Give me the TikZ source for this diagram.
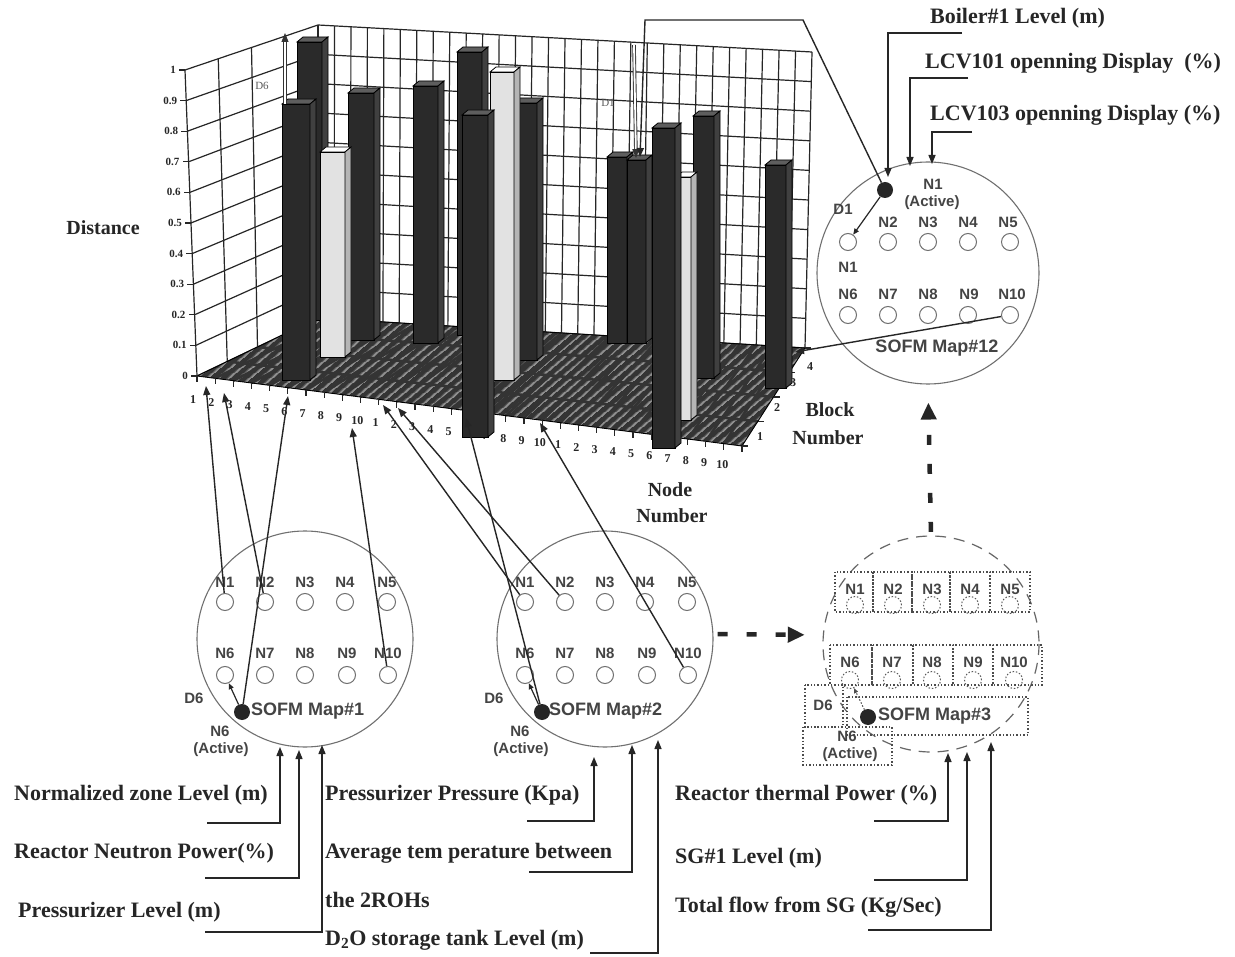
\documentclass[tikz,border=0pt]{standalone}
\usepackage{fontspec}
\setmainfont{Liberation Serif}
\newfontfamily\mapsans{Liberation Sans}
\usetikzlibrary{arrows.meta,patterns.meta,calc}

\definecolor{bardark}{HTML}{2A2A2A}
\definecolor{bartop}{HTML}{5E5E5E}
\definecolor{barside}{HTML}{404040}
\definecolor{barlight}{HTML}{E2E2E2}
\definecolor{barlside}{HTML}{B5B5B5}
\definecolor{floorc}{HTML}{343434}
\definecolor{hatchc}{HTML}{909090}
\definecolor{gridc}{HTML}{262626}
\definecolor{mapgray}{HTML}{707070}
\definecolor{labgray}{HTML}{444444}

% one 3-D column of the chart: x-left, x-right, y-top, y-bottom, front, top, side colours
\newcommand{\chartbar}[7]{%
  \filldraw[fill=#5, draw=black, line width=0.8pt] (#1,#3) rectangle (#2,#4);
  \filldraw[fill=#6, draw=black, line width=0.8pt] (#1,#3) -- ({#1+6},{#3-5}) -- ({#2+6},{#3-5}) -- (#2,#3) -- cycle;
  \filldraw[fill=#7, draw=black, line width=0.8pt] (#2,#3) -- ({#2+6},{#3-5}) -- ({#2+6},{#4-5}) -- (#2,#4) -- cycle;
}

\begin{document}
\begin{tikzpicture}[x=1pt,y=-1pt,
  bigtxt/.style={font=\fontsize{22}{24}\selectfont\bfseries, text=black!85, inner sep=0pt},
  axtxt/.style={font=\fontsize{20}{22}\selectfont\bfseries, text=black!85, inner sep=0pt},
  ticktxt/.style={font=\fontsize{12}{13}\selectfont\bfseries, text=black!85, inner sep=0pt},
  dtxt/.style={font=\fontsize{11}{12}\selectfont, text=black!65, inner sep=0pt},
  grid/.style={draw=gridc, line width=1.2pt},
  mapc/.style={circle, draw=mapgray, line width=1.1pt, minimum size=216pt, inner sep=0pt},
  nodec/.style={circle, draw=mapgray, line width=1pt, minimum size=17pt, inner sep=0pt},
  dotc/.style={circle, draw=black!65, line width=1pt, dash pattern=on 1.5pt off 1.8pt, minimum size=17pt, inner sep=0pt},
  actdot/.style={circle, fill=black!85, minimum size=16pt, inner sep=0pt},
  nlab/.style={font=\mapsans\fontsize{15}{16}\selectfont\bfseries, text=labgray, inner sep=0pt},
  maplab/.style={font=\mapsans\fontsize{18}{20}\selectfont\bfseries, text=labgray, inner sep=0pt},
  conn/.style={draw=black!85, line width=1.4pt},
  arr/.style={conn, -{Triangle[length=9pt,width=7pt]}},
  arrs/.style={draw=black!85, line width=1.2pt, -{Triangle[length=6pt,width=5pt]}},
  dmark/.style={draw=black!80, line width=0.9pt, double=white, double distance=1.8pt,
                -{Triangle[length=9pt,width=7pt]}},
  dotbox/.style={draw=black!70, line width=1.1pt, dash pattern=on 1.4pt off 2pt},
  bigdash/.style={draw=black!85, line width=4.5pt, dash pattern=on 10pt off 19pt,
                  -{Triangle[length=17pt,width=15pt]}},
]
\useasboundingbox (0,0) rectangle (1235,957);
\fill[white] (0,0) rectangle (1235,957);

% ---------------- chart frame ----------------
\coordinate (F0) at (197,376);
\coordinate (F1) at (742,446);
\coordinate (B0) at (318,318);
\coordinate (B1) at (805,348);

% left wall
\foreach \k in {0,...,10}
  \draw[grid] ({197-1.2*\k},{376-30.6*\k}) -- (318,{318-29.3*\k});
\foreach \j in {1,2,3}
  \draw[grid] ({197+121*\j/4},{376-58*\j/4}) -- ({185+133*\j/4},{70-45*\j/4});
\draw[grid] (318,318) -- (318,25);

% back wall
\foreach \k in {0,...,10}
  \draw[grid] (318,{318-29.3*\k}) -- ({805+0.7*\k},{348-29.6*\k});
\foreach \j in {0,...,30}
  \draw[grid] ({318+487*\j/30},{318+30*\j/30}) -- ({318+494*\j/30},{25+27*\j/30});

% floor
\fill[floorc] (F0) -- (B0) -- (B1) -- (F1) -- cycle;
\fill[pattern={Lines[angle=40,distance=6.5pt,line width=1.8pt]}, pattern color=hatchc]
  (F0) -- (B0) -- (B1) -- (F1) -- cycle;
\foreach \i in {1,...,29}
  \draw[floorc, line width=2.6pt] ($(F0)!\i/30!(F1)$) -- ($(B0)!\i/30!(B1)$);
\foreach \b in {1,2,3}
  \draw[floorc, line width=2.6pt] ($(F0)!\b/4!(B0)$) -- ($(F1)!\b/4!(B1)$);
\draw[black, line width=0.9pt] (F0) -- (B0) -- (B1) -- (F1) -- cycle;

% y axis
\draw[grid] (197,376) -- (185,70);
\foreach \k/\t in {0/0,1/0.1,2/0.2,3/0.3,4/0.4,5/0.5,6/0.6,7/0.7,8/0.8,9/0.9,10/1} {
  \draw[grid] ({197-1.2*\k},{376-30.6*\k}) -- ++(-6,0);
  \node[ticktxt, font=\fontsize{11}{12}\selectfont\bfseries, anchor=east] (yl\k) at ({188-1.2*\k},{376-30.6*\k}) {\t};
}

% node-number ticks and labels
\foreach \i in {0,...,30}
  \draw[grid] ($(F0)!\i/30!(F1)$) -- ++(0,6);
\foreach \i in {0,...,29} {
  \pgfmathtruncatemacro{\lab}{mod(\i,10)+1}
  \node[ticktxt] (xl\i) at ({193+18.25*\i},{400+2.24*\i}) {\lab};
}

% block ticks and labels
\foreach \b in {0,...,4}
  \draw[grid] ($(F1)!\b/4!(B1)$) -- ++(6,0);
\node[ticktxt] (bl1) at (760,437) {1};
\node[ticktxt] (bl2) at (777,408) {2};
\node[ticktxt] (bl3) at (793,383) {3};
\node[ticktxt] (bl4) at (810,367) {4};

% columns, back to front
\chartbar{457}{482}{52}{335}{bardark}{bartop}{barside}
\chartbar{297}{322}{42}{320}{bardark}{bartop}{barside}
\chartbar{348}{374}{93}{340}{bardark}{bartop}{barside}
\chartbar{413}{438}{86}{343}{bardark}{bartop}{barside}
\chartbar{513}{537}{103}{360}{bardark}{bartop}{barside}
\chartbar{607}{627}{157}{343}{bardark}{bartop}{barside}
\chartbar{627}{646}{160}{343}{bardark}{bartop}{barside}
\chartbar{693}{714}{116}{378}{bardark}{bartop}{barside}
\chartbar{765}{786}{165}{388}{bardark}{bartop}{barside}
\chartbar{320}{345}{152}{357}{barlight}{white}{barlside}
\chartbar{490}{514}{72}{380}{barlight}{white}{barlside}
\chartbar{676}{691}{177}{420}{barlight}{white}{barlside}
\chartbar{282}{310}{104}{380}{bardark}{bartop}{barside}
\chartbar{462}{488}{115}{437}{bardark}{bartop}{barside}
\chartbar{652}{675}{128}{448}{bardark}{bartop}{barside}

% distance markers on the chart
\coordinate (d6a) at (285,104);
\coordinate (d6b) at (285,33);
\draw[dmark] (d6a) -- (d6b);
\node[dtxt] (d6t) at (262,86) {D6};
\coordinate (d1a) at (634,45);
\coordinate (d1b) at (636,158);
\draw[dmark] (d1a) -- (d1b);
\node[dtxt] (d1t) at (608,103) {D1};

% axis titles
\node[axtxt] (dist) at (103,228) {Distance};
\node[axtxt] (blk) at (830,410) {Block};
\node[axtxt] (blkn) at (828,438) {Number};
\node[axtxt] (nd) at (670,490) {Node};
\node[axtxt] (ndn) at (672,516) {Number};

% ---------------- SOFM map #1 and #2 ----------------
\foreach \m/\cx in {1/305,2/605} {
  \node[mapc] (map\m) at (\cx,639) {};
  \foreach \n/\dx in {1/-80,2/-40,3/0,4/40,5/82} {
    \node[nodec] (m\m-n\n) at ({\cx+\dx},602) {};
    \node[nlab] (m\m-l\n) at ({\cx+\dx},582) {N\n};
  }
  \foreach \n/\dx in {6/-80,7/-40,8/0,9/42,10/83} {
    \node[nodec] (m\m-n\n) at ({\cx+\dx},675) {};
    \node[nlab] (m\m-l\n) at ({\cx+\dx},653) {N\n};
  }
  \node[actdot] (m\m-a) at ({\cx-63},712) {};
  \node[nlab] (m\m-d) at ({\cx-111},698) {D6};
  \node[nlab] (m\m-an) at ({\cx-85},731) {N6};
  \node[nlab] (m\m-act) at ({\cx-84},750) {(Active)};
  \draw[arrs] (m\m-a) -- (m\m-n6);
}
\node[maplab, anchor=west] (m1-t) at (251,711) {SOFM Map\#1};
\node[maplab, anchor=west] (m2-t) at (549,711) {SOFM Map\#2};

% ---------------- SOFM map #12 ----------------
\node[mapc, minimum size=222pt] (map12) at (928,273) {};
\foreach \n/\dx in {1/-80,2/-40,3/0,4/40,5/82}
  \node[nodec] (m12-n\n) at ({928+\dx},242) {};
\foreach \n/\dx in {6/-80,7/-40,8/0,9/40,10/82}
  \node[nodec] (m12-n\n) at ({928+\dx},315) {};
\foreach \n/\dx in {2/-40,3/0,4/40,5/80}
  \node[nlab] (m12-l\n) at ({928+\dx},222) {N\n};
\foreach \n/\dx in {6/-80,7/-40,8/0,9/41,10/84}
  \node[nlab] (m12-l\n) at ({928+\dx},294) {N\n};
\node[nlab] (m12-l1) at (848,267) {N1};
\node[nlab] (m12-an) at (933,184) {N1};
\node[nlab] (m12-act) at (932,203) {(Active)};
\node[nlab] (m12-d) at (843,209) {D1};
\node[actdot] (m12-a) at (885,190) {};
\draw[arrs] (m12-a) -- (m12-n1);
\node[maplab] (m12-t) at (937,348) {SOFM Map\#12};

% ---------------- SOFM map #3 (dashed) ----------------
\draw[draw=black!60, line width=1.2pt, dash pattern=on 11pt off 8pt] (931,644) circle[radius=108];
\node[minimum size=216pt, circle, inner sep=0pt] (map3) at (931,644) {};
\foreach \a/\b in {835/873,873/912,912/950,950/990,990/1030}
  \draw[dotbox] (\a,572) rectangle (\b,612);
\foreach \a/\b in {830/872,872/913,913/953,953/993,993/1042}
  \draw[dotbox] (\a,645) rectangle (\b,685);
\draw[dotbox] (805,685) rectangle (843,727);
\draw[dotbox] (803,727) rectangle (892,765);
\draw[dotbox] (847,697) rectangle (1028,735);
\foreach \n/\x in {1/855,2/893,3/932,4/970,5/1010} {
  \node[dotc] (m3-n\n) at (\x,605) {};
  \node[nlab] (m3-l\n) at (\x,589) {N\n};
}
\foreach \n/\x in {6/850,7/892,8/932,9/973,10/1014} {
  \node[dotc] (m3-n\n) at (\x,680) {};
  \node[nlab] (m3-l\n) at (\x,662) {N\n};
}
\node[nlab] (m3-d) at (823,705) {D6};
\node[nlab] (m3-an) at (847,736) {N6};
\node[nlab] (m3-act) at (850,755) {(Active)};
\node[actdot] (m3-a) at (868,717) {};
\draw[draw=black!70, line width=1pt, dash pattern=on 1.5pt off 1.8pt, -{Triangle[length=5pt,width=4pt]}] (m3-a) -- (m3-n6);
\node[maplab, anchor=west] (m3-t) at (878,716) {SOFM Map\#3};

% dashed flow between maps
\draw[bigdash, shorten >=18pt, shorten <=4pt] ([yshift=5pt]map2.east) -- ([yshift=9pt]map3.west);
\draw[bigdash, shorten >=18pt, shorten <=4pt] (map3.north) -- (map12.south);

% ---------------- links from map nodes to the chart ----------------
\coordinate (c1) at (206,386);
\coordinate (c2) at (224,393);
\coordinate (c6) at (288,396);
\coordinate (c10) at (352,428);
\coordinate (c21) at (383,405);
\coordinate (c22) at (398,408);
\coordinate (c26) at (466,418);
\coordinate (c31) at (540,423);
\draw[arr] (m1-n1) -- (c1);
\draw[arr] (m1-n2) -- (c2);
\draw[arr] (m1-a) -- (c6);
\draw[arr] (m1-n10) -- (c10);
\draw[arr] (m2-n1) -- (c21);
\draw[arr] (m2-n2) -- (c22);
\draw[arr] (m2-a) -- (c26);
\draw[arr] (m2-n10) -- (c31);

\coordinate (k1) at (803,20);
\coordinate (k2) at (645,20);
\coordinate (cI) at (640,157);
\draw[arr] (m12-a) -- (k1) -- (k2) -- (cI);
\coordinate (cBR) at (795,352);
\draw[arr] (m12-n10) -- (cBR);

% ---------------- input variables of map #12 ----------------
\node[bigtxt, anchor=west] (v12a) at (930,18) {Boiler\#1 Level (m)};
\node[bigtxt, anchor=west] (v12b) at (925,63) {LCV101 openning Display\ \ (\%)};
\node[bigtxt, anchor=west] (v12c) at (930,115) {LCV103 openning Display (\%)};
\coordinate (s12a) at (962,33);  \coordinate (t12a) at (888,177);
\coordinate (s12b) at (968,78);  \coordinate (t12b) at (910,166);
\coordinate (s12c) at (972,132); \coordinate (t12c) at (932,164);
\draw[arr] (s12a) -| (t12a);
\draw[arr] (s12b) -| (t12b);
\draw[arr] (s12c) -| (t12c);

% ---------------- input variables of map #1 ----------------
\node[bigtxt, anchor=west] (v1a) at (14,795) {Normalized zone Level (m)};
\node[bigtxt, anchor=west] (v1b) at (14,853) {Reactor Neutron Power(\%)};
\node[bigtxt, anchor=west] (v1c) at (18,912) {Pressurizer Level (m)};
\coordinate (s1a) at (207,823); \coordinate (t1a) at (280,747);
\coordinate (s1b) at (205,878); \coordinate (t1b) at (299,750);
\coordinate (s1c) at (205,932); \coordinate (t1c) at (322,745);
\draw[arr] (s1a) -| (t1a);
\draw[arr] (s1b) -| (t1b);
\draw[arr] (s1c) -| (t1c);

% ---------------- input variables of map #2 ----------------
\node[bigtxt, anchor=west] (v2a) at (325,795) {Pressurizer Pressure (Kpa)};
\node[bigtxt, anchor=west] (v2b) at (325,853) {Average tem perature between};
\node[bigtxt, anchor=west] (v2b2) at (325,900) {the 2ROHs};
\node[bigtxt, anchor=west] (v2c) at (325,940) {D\textsubscript{2}O storage tank Level (m)};
\coordinate (s2a) at (527,821); \coordinate (t2a) at (594,757);
\coordinate (s2b) at (529,872); \coordinate (t2b) at (632,745);
\coordinate (s2c) at (590,953); \coordinate (t2c) at (658,740);
\draw[arr] (s2a) -| (t2a);
\draw[arr] (s2b) -| (t2b);
\draw[arr] (s2c) -| (t2c);

% ---------------- input variables of map #3 ----------------
\node[bigtxt, anchor=west] (v3a) at (675,795) {Reactor thermal Power (\%)};
\node[bigtxt, anchor=west] (v3b) at (675,858) {SG\#1 Level (m)};
\node[bigtxt, anchor=west] (v3c) at (675,907) {Total flow from SG (Kg/Sec)};
\coordinate (s3a) at (874,821); \coordinate (t3a) at (948,753);
\coordinate (s3b) at (874,880); \coordinate (t3b) at (967,752);
\coordinate (s3c) at (868,930); \coordinate (t3c) at (991,742);
\draw[arr] (s3a) -| (t3a);
\draw[arr] (s3b) -| (t3b);
\draw[arr] (s3c) -| (t3c);
\end{tikzpicture}
\end{document}
